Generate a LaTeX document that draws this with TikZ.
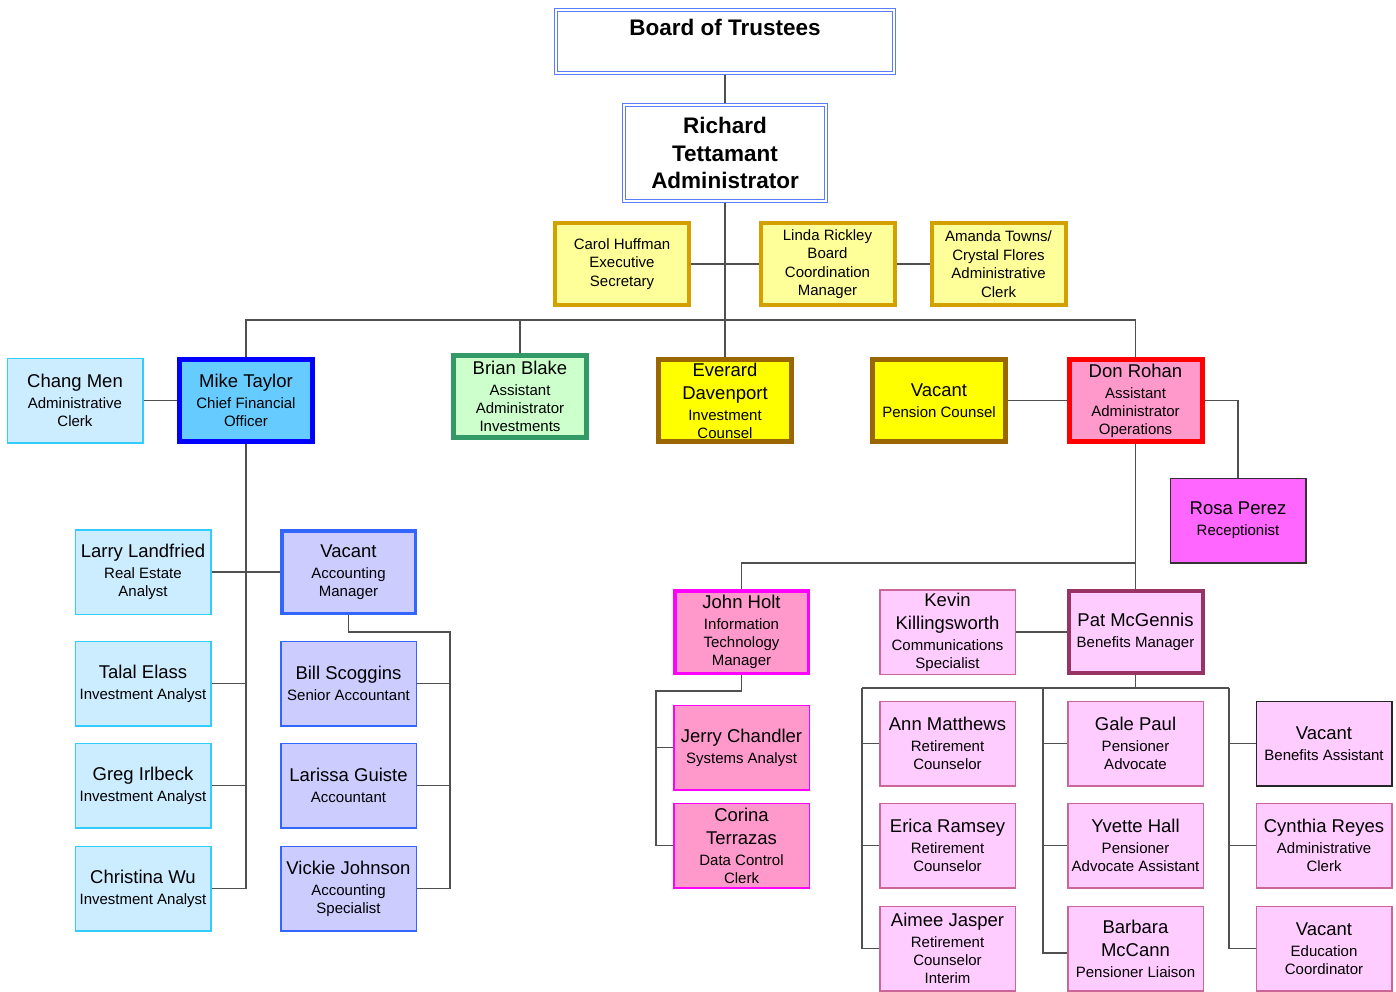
\documentclass[tikz,border=0pt]{standalone}
\usepackage{fontspec}
\setmainfont{Liberation Sans}
\setsansfont{Liberation Sans}
\usetikzlibrary{backgrounds}
\definecolor{dblue}{RGB}{90,125,255}
\definecolor{gold}{RGB}{212,160,0}
\definecolor{lyellow}{RGB}{255,255,153}
\definecolor{pyellow}{RGB}{255,255,0}
\definecolor{lcyan}{RGB}{204,236,255}
\definecolor{cyanb}{RGB}{51,204,255}
\definecolor{skyb}{RGB}{102,204,255}
\definecolor{pblue}{RGB}{0,0,255}
\definecolor{lgreen}{RGB}{204,255,204}
\definecolor{dgreen}{RGB}{51,153,102}
\definecolor{brn}{RGB}{153,102,0}
\definecolor{pinkf}{RGB}{255,153,204}
\definecolor{lilac}{RGB}{204,204,255}
\definecolor{acblue}{RGB}{51,102,255}
\definecolor{magf}{RGB}{255,102,255}
\definecolor{pmag}{RGB}{255,0,255}
\definecolor{pred}{RGB}{255,0,0}
\definecolor{lpink}{RGB}{255,204,255}
\definecolor{mauve}{RGB}{204,102,153}
\definecolor{plum}{RGB}{153,51,102}
\definecolor{conncol}{RGB}{80,80,80}
\newcommand\nm[1]{{\fontsize{18.5}{22}\selectfont #1}}
\tikzset{
 box/.style={rectangle, align=center, inner sep=0pt, font=\fontsize{15}{18}\selectfont},
 bthin/.style={box, line width=1.5pt, minimum width=135.5pt, minimum height=84.5pt},
 bmid/.style={box, line width=3.5pt, minimum width=133.5pt, minimum height=82.5pt},
 bthick/.style={box, line width=5pt, minimum width=133pt, minimum height=82pt},
 bgold/.style={box, line width=4pt, draw=gold, fill=lyellow, minimum width=134pt, minimum height=82pt, font=\fontsize{15}{18.5}\selectfont},
 topbox/.style={rectangle, draw=dblue, line width=1pt, double=white, double distance=2pt, inner sep=0pt, align=center},
 cyanbox/.style={bthin, draw=cyanb, fill=lcyan},
 lilacbox/.style={bthin, draw=acblue, fill=lilac},
 pinkbox/.style={bthin, draw=pmag, fill=pinkf},
 lpinkbox/.style={bthin, draw=mauve, fill=lpink},
 conn/.style={draw=conncol, line width=1.3pt},
}
\begin{document}
\begin{tikzpicture}[x=1pt,y=-1pt]
\useasboundingbox (0,0) rectangle (1396,992);
% top
\node[topbox, minimum width=338pt, minimum height=63pt] (board) at (725,41.5) {};
\node[font=\bfseries\fontsize{22.5}{27}\selectfont, inner sep=0pt] (boardt) at (725,27) {Board of Trustees};
\node[topbox, minimum width=202pt, minimum height=96pt, font=\bfseries\fontsize{22.5}{27.5}\selectfont] (rich) at (725,153) {Richard\\Tettamant\\Administrator};
\node[bgold] (carol) at (622,264) {Carol Huffman\\Executive\\Secretary};
\node[bgold] (linda) at (827.5,264) {Linda Rickley\\Board\\Coordination\\Manager};
\node[bgold] (amanda) at (998.5,264) {Amanda Towns/\\Crystal Flores\\Administrative\\Clerk};
% second level
\node[cyanbox] (chang) at (75,400.5) {\nm{Chang Men}\\[3pt]Administrative\\Clerk};
\node[bthick, draw=pblue, fill=skyb] (mike) at (246,400.5) {\nm{Mike Taylor}\\[3pt]Chief Financial\\Officer};
\node[bthick, draw=dgreen, fill=lgreen] (brian) at (520,396) {\nm{Brian Blake}\\[3pt]Assistant\\Administrator\\Investments};
\node[bthick, draw=brn, fill=pyellow] (everard) at (725,400.5) {\nm{Everard}\\[5pt]\nm{Davenport}\\[3pt]Investment\\Counsel};
\node[bthick, draw=brn, fill=pyellow] (vacpc) at (939,400.5) {\nm{Vacant}\\[3pt]Pension Counsel};
\node[bthick, draw=pred, fill=pinkf] (don) at (1135.5,400.5) {\nm{Don Rohan}\\[3pt]Assistant\\Administrator\\Operations};
\node[bthin, draw=black!80, fill=magf] (rosa) at (1238,520.5) {\nm{Rosa Perez}\\[3pt]Receptionist};
% finance
\node[cyanbox] (larry) at (143,572) {\nm{Larry Landfried}\\[3pt]Real Estate\\Analyst};
\node[cyanbox] (talal) at (143,683.5) {\nm{Talal Elass}\\[3pt]Investment Analyst};
\node[cyanbox] (greg) at (143,785.5) {\nm{Greg Irlbeck}\\[3pt]Investment Analyst};
\node[cyanbox] (chris) at (143,888.5) {\nm{Christina Wu}\\[3pt]Investment Analyst};
\node[bmid, draw=acblue, fill=lilac] (vacam) at (348.5,572) {\nm{Vacant}\\[3pt]Accounting\\Manager};
\node[lilacbox] (bill) at (348.5,683.5) {\nm{Bill Scoggins}\\[3pt]Senior Accountant};
\node[lilacbox] (lar) at (348.5,785.5) {\nm{Larissa Guiste}\\[3pt]Accountant};
\node[lilacbox] (vick) at (348.5,888.5) {\nm{Vickie Johnson}\\[3pt]Accounting\\Specialist};
% operations
\node[bmid, draw=pmag, fill=pinkf] (john) at (741.5,632) {\nm{John Holt}\\[3pt]Information\\Technology\\Manager};
\node[lpinkbox] (kevin) at (947.5,632) {\nm{Kevin}\\[5pt]\nm{Killingsworth}\\[3pt]Communications\\Specialist};
\node[box, line width=4pt, draw=plum, fill=lpink, minimum width=134pt, minimum height=82pt] (pat) at (1135.5,632) {\nm{Pat McGennis}\\[3pt]Benefits Manager};
\node[pinkbox] (jerry) at (741.5,747.5) {\nm{Jerry Chandler}\\[3pt]Systems Analyst};
\node[pinkbox] (corina) at (741.5,845.5) {\nm{Corina}\\[5pt]\nm{Terrazas}\\[3pt]Data Control\\Clerk};
\node[lpinkbox] (ann) at (947.5,743.5) {\nm{Ann Matthews}\\[3pt]Retirement\\Counselor};
\node[lpinkbox] (erica) at (947.5,845.5) {\nm{Erica Ramsey}\\[3pt]Retirement\\Counselor};
\node[lpinkbox] (aimee) at (947.5,948.5) {\nm{Aimee Jasper}\\[3pt]Retirement\\Counselor\\Interim};
\node[lpinkbox] (gale) at (1135.5,743.5) {\nm{Gale Paul}\\[3pt]Pensioner\\Advocate};
\node[lpinkbox] (yvette) at (1135.5,845.5) {\nm{Yvette Hall}\\[3pt]Pensioner\\Advocate Assistant};
\node[lpinkbox] (barb) at (1135.5,948.5) {\nm{Barbara}\\[5pt]\nm{McCann}\\[3pt]Pensioner Liaison};
\node[bthin, draw=black!85, fill=lpink] (vacba) at (1324,743.5) {\nm{Vacant}\\[3pt]Benefits Assistant};
\node[lpinkbox] (cyn) at (1324,845.5) {\nm{Cynthia Reyes}\\[3pt]Administrative\\Clerk};
\node[lpinkbox] (vaced) at (1324,948.5) {\nm{Vacant}\\[3pt]Education\\Coordinator};
% connectors
\begin{scope}[on background layer]
\coordinate (bus) at (725,320);
\coordinate (mbot) at (246,888.5);
\coordinate (acbus) at (450,632);
\coordinate (dbus) at (1135.5,563);
\coordinate (jb) at (656,691);
\coordinate (c1) at (862,688);
\coordinate (c2) at (1043,688);
\coordinate (c3) at (1229,688);
\draw[conn] (board.south) -- (rich.north);
\draw[conn] (rich.south) -- (everard.north);
\draw[conn] (carol.east) -- (linda.west);
\draw[conn] (linda.east) -- (amanda.west);
\draw[conn] (mike.north) |- (bus) -| (don.north);
\draw[conn] (brian.north) -- (brian.north |- bus);
\draw[conn] (chang.east) -- (mike.west);
\draw[conn] (vacpc.east) -- (don.west);
\draw[conn] (don.east) -| (rosa.north);
\draw[conn] (mike.south) -- (mbot) -- (chris.east);
\draw[conn] (larry.east) -- (vacam.west);
\draw[conn] (talal.east) -- (talal.east -| mbot);
\draw[conn] (greg.east) -- (greg.east -| mbot);
\draw[conn] (vacam.south) |- (acbus) |- (vick.east);
\draw[conn] (bill.east) -- (bill.east -| acbus);
\draw[conn] (lar.east) -- (lar.east -| acbus);
\draw[conn] (don.south) -- (pat.north);
\draw[conn] (john.north) |- (dbus);
\draw[conn] (kevin.east) -- (pat.west);
\draw[conn] (john.south) |- (jb) |- (corina.west);
\draw[conn] (jerry.west) -- (jerry.west -| jb);
\draw[conn] (pat.south) -- (pat.south |- c1);
\draw[conn] (c1) -- (c3);
\draw[conn] (c1) |- (aimee.west);
\draw[conn] (ann.west) -- (ann.west -| c1);
\draw[conn] (erica.west) -- (erica.west -| c1);
\draw[conn] (c2) |- ([yshift=-4.5pt]barb.west);
\draw[conn] (gale.west) -- (gale.west -| c2);
\draw[conn] (yvette.west) -- (yvette.west -| c2);
\draw[conn] (c3) |- (vaced.west);
\draw[conn] (vacba.west) -- (vacba.west -| c3);
\draw[conn] (cyn.west) -- (cyn.west -| c3);
\end{scope}
\end{tikzpicture}
\end{document}
